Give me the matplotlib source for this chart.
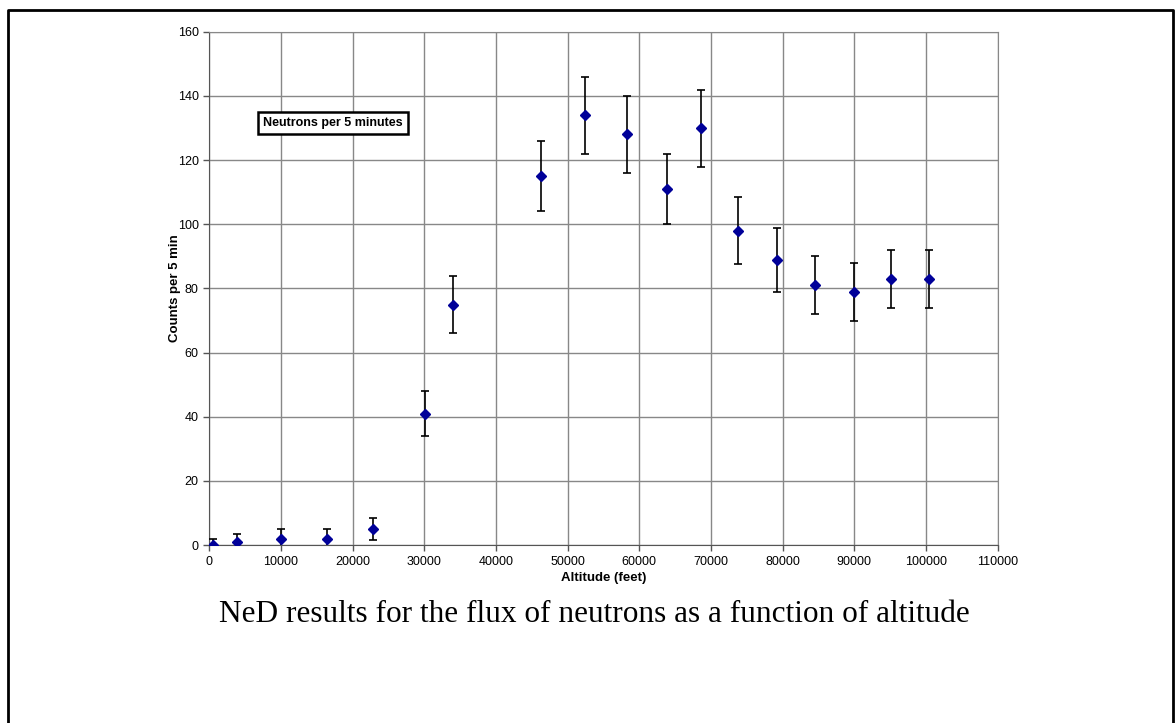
import matplotlib.pyplot as plt
from matplotlib.lines import Line2D

# altitude (feet) and counts per 5 min
altitude = [600, 3900, 10000, 16400, 22900, 30100, 34000, 46300, 52500,
            58300, 63900, 68600, 73800, 79200, 84500, 89900, 95200, 100500]
counts = [0, 1, 2, 2, 5, 41, 75, 115, 134, 128, 111, 130, 98, 89, 81, 79, 83, 83]
errors = [2, 2.5, 3, 3, 3.5, 7, 9, 11, 12, 12, 11, 12, 10.5, 10, 9, 9, 9, 9]

x_ticks = list(range(0, 110001, 10000))
y_ticks = list(range(0, 161, 20))

plt.rcParams['font.family'] = ['Liberation Sans', 'DejaVu Sans']

fig = plt.figure(figsize=(11.75, 7.23), dpi=100)
ax = fig.add_axes([0.178, 0.246, 0.671, 0.710])

ax.errorbar(altitude, counts, yerr=errors, fmt='D', color='#000099',
            markersize=5.5, ecolor='black', elinewidth=1.2, capsize=3,
            capthick=1.2, zorder=3)

ax.set_xlim(0, 110000)
ax.set_ylim(0, 160)
ax.set_xticks(x_ticks)
ax.set_yticks(y_ticks)
ax.tick_params(labelsize=9, length=4, color='#555555', width=1)
ax.grid(True, color='#888888', linewidth=1)
ax.set_axisbelow(True)
for s in ax.spines.values():
    s.set_color('#888888')
ax.spines['left'].set_color('#555555')
ax.spines['bottom'].set_color('#555555')

ax.set_xlabel('Altitude (feet)', fontsize=9.5, fontweight='bold', labelpad=3)
ax.set_ylabel('Counts per 5 min', fontsize=9.5, fontweight='bold', labelpad=-2)

ax.text(7500, 131.5, 'Neutrons per 5 minutes', fontsize=9, fontweight='bold',
        va='center', ha='left',
        bbox=dict(boxstyle='square,pad=0.4', facecolor='white',
                  edgecolor='black', linewidth=1.8))

fig.text(0.506, 0.150, 'NeD results for the flux of neutrons as a function of altitude',
         fontsize=22.5, family='Liberation Serif', ha='center', va='center')

# page border (left, top, right)
fig.add_artist(Line2D([0.0065, 0.0065, 0.9985, 0.9985], [0.0, 0.986, 0.986, 0.0],
                      transform=fig.transFigure, color='black', linewidth=2))

fig.savefig('out.png', dpi=100)
